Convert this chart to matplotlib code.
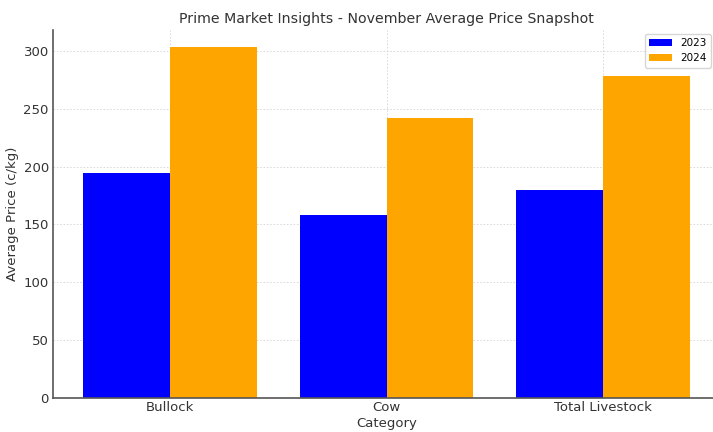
import matplotlib
matplotlib.use("Agg")
import matplotlib.pyplot as plt
import numpy as np

categories = ["Bullock", "Cow", "Total Livestock"]
values_2023 = [194, 158, 180]
values_2024 = [303, 242, 278]
series_labels = ["2023", "2024"]

fig = plt.figure(figsize=(7.13, 4.32), dpi=100)
ax = fig.add_axes([53/713, 34/432, 667/713, 368/432])

x = np.arange(len(categories))
w = 0.4
ax.bar(x - w/2, values_2023, w, color="blue", label=series_labels[0])
ax.bar(x + w/2, values_2024, w, color="orange", label=series_labels[1])

ax.set_xticks(x)
ax.set_xticklabels(categories)
ax.set_ylim(0, 318)
ax.set_xlim(-0.54, 2.54)
ax.tick_params(length=0, labelsize=9.5, colors="#333333", pad=3)
ax.tick_params(axis="x", pad=2)
ax.grid(True, linestyle=(0, (2, 2)), color="#d5d5d5", linewidth=0.6)
ax.set_axisbelow(True)
for s in ["top", "right"]:
    ax.spines[s].set_visible(False)
for s in ["left", "bottom"]:
    ax.spines[s].set_color("#555555")
    ax.spines[s].set_linewidth(1.2)

ax.set_title("Prime Market Insights - November Average Price Snapshot", fontsize=10.2, color="#333333", pad=5)
ax.set_xlabel("Category", fontsize=9.5, color="#333333", labelpad=2)
ax.set_ylabel("Average Price (c/kg)", fontsize=9.5, color="#333333", labelpad=3)
ax.legend(loc="upper right", fontsize=7.5, bbox_to_anchor=(711/713, 1 - 34/432),
          bbox_transform=fig.transFigure, handlelength=2.2, borderaxespad=0.0,
          borderpad=0.4)

fig.savefig("out.png", dpi=100)
